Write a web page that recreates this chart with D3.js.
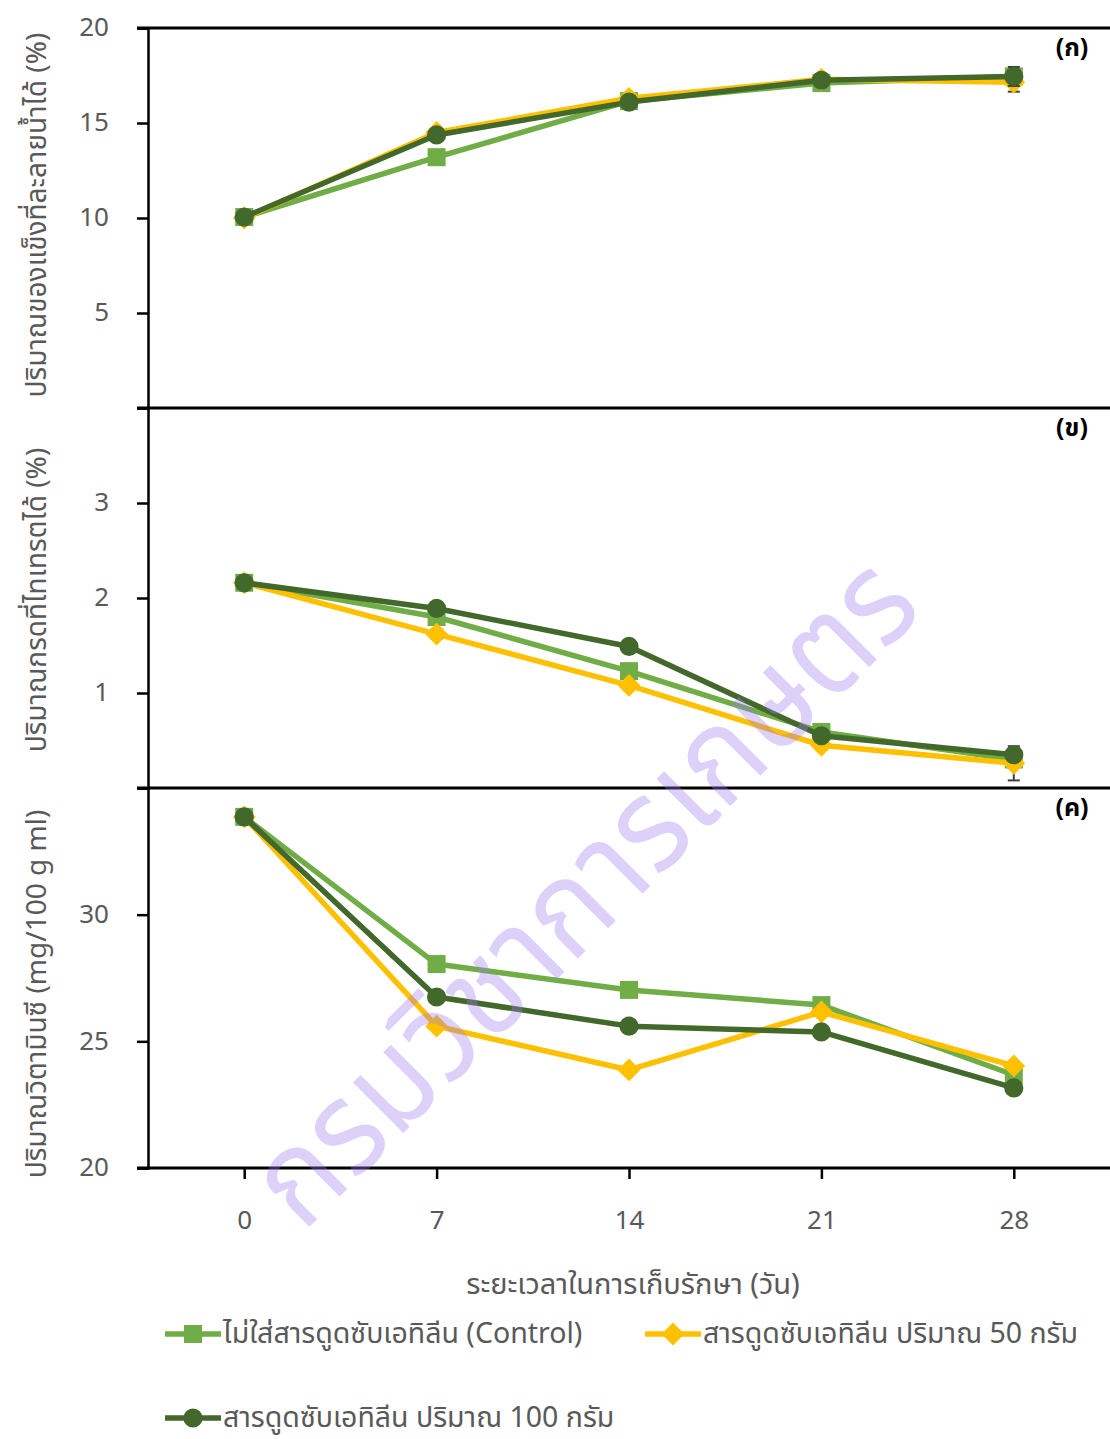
<!DOCTYPE html>
<html>
<head>
<meta charset="utf-8">
<script src="https://cdn.jsdelivr.net/npm/d3@7"></script>
<style>
  body { margin: 0; background: #fff; }
  svg { display: block; }
  text { font-family: "Noto Sans Thai", "Leelawadee UI", Tahoma, "Noto Sans", sans-serif; }
</style>
</head>
<body>
<script>
// ---- data ----
const days = [0, 7, 14, 21, 28];
const seriesNames = ["ไม่ใส่สารดูดซับเอทิลีน (Control)", "สารดูดซับเอทิลีน ปริมาณ 50 กรัม", "สารดูดซับเอทิลีน ปริมาณ 100 กรัม"];
const seriesColors = ["#70ad47", "#ffc000", "#43682b"];
const seriesShapes = ["square", "diamond", "circle"];

// (ก) soluble solids %
const tssControl = [10.05, 13.2, 16.15, 17.1, 17.45];
const tss50 = [10.0, 14.5, 16.3, 17.3, 17.15];
const tss100 = [10.05, 14.37, 16.1, 17.25, 17.45];
const tssErr50 = [0, 0, 0.1, 0, 0.5];
const tssErr100 = [0, 0, 0, 0, 0.5];

// (ข) titratable acidity %
const taControl = [2.16, 1.8, 1.23, 0.59, 0.3];
const ta50 = [2.16, 1.62, 1.08, 0.45, 0.26];
const ta100 = [2.16, 1.89, 1.49, 0.55, 0.35];
const taErr50 = [0.05, 0.05, 0.05, 0, 0.18];

// (ค) vitamin C mg/100 g ml
const vcControl = [33.86, 28.05, 27.03, 26.43, 23.67];
const vc50 = [33.86, 25.6, 23.87, 26.16, 24.03];
const vc100 = [33.86, 26.75, 25.6, 25.37, 23.16];

const panelLabels = ["(ก)", "(ข)", "(ค)"];
const yTitles = ["ปริมาณของแข็งที่ละลายน้ำได้ (%)", "ปริมาณกรดที่ไทเทรตได้ (%)", "ปริมาณวิตามินซี (mg/100 g ml)"];
const yTitleCenters = [215, 600, 994];
const yDomains = [[0, 20], [0, 4], [20, 35]];
const yTicks = [[5, 10, 15, 20], [1, 2, 3], [20, 25, 30]];
const xTitle = "ระยะเวลาในการเก็บรักษา (วัน)";
const watermark = "กรมวิชาการเกษตร";

const panels = [
  { values: [tssControl, tss50, tss100], errs: [null, tssErr50, tssErr100] },
  { values: [taControl, ta50, ta100], errs: [null, taErr50, null] },
  { values: [vcControl, vc50, vc100], errs: [null, null, null] }
];

// ---- layout ----
const W = 1110, H = 1439;
const plotLeft = 148, plotRight = 1110, plotTop = 28, panelH = 380;
const textColor = "#595959";

const svg = d3.select("body").append("svg")
  .attr("width", W).attr("height", H);

const x = d3.scaleLinear().domain([-3.5, 31.5]).range([plotLeft, plotRight]);

const symbolFor = {
  square: d3.symbol().type(d3.symbolSquare).size(324),
  diamond: d3.symbol().type(d3.symbolSquare).size(260),
  circle: d3.symbol().type(d3.symbolCircle).size(290)
};
const rot = s => seriesShapes[s] === "diamond" ? " rotate(45)" : "";

panels.forEach((p, i) => {
  const y0 = plotTop + i * panelH;
  const y = d3.scaleLinear().domain(yDomains[i]).range([y0 + panelH, y0]);
  const g = svg.append("g");

  // y axis
  const yAxis = g.append("g")
    .attr("transform", `translate(${plotLeft},0)`)
    .call(d3.axisLeft(y).tickValues(yTicks[i]).tickFormat(d3.format("d")).tickSize(11).tickPadding(28));
  yAxis.select(".domain").attr("stroke", "#000").attr("stroke-width", 2.5);
  yAxis.selectAll(".tick line").attr("stroke", "#000").attr("stroke-width", 2.5);
  yAxis.selectAll(".tick text").attr("fill", textColor).style("font-size", "26px")
    .attr("dy", "0.3em");

  // top frame line of panel
  g.append("line")
    .attr("x1", plotLeft - 11).attr("x2", plotRight)
    .attr("y1", y0).attr("y2", y0)
    .attr("stroke", "#000").attr("stroke-width", 3);

  // y title
  g.append("text")
    .attr("transform", `translate(36,${yTitleCenters[i]}) rotate(-90)`)
    .attr("text-anchor", "middle")
    .attr("dy", "0.35em")
    .attr("fill", textColor)
    .style("font-size", "28px")
    .text(yTitles[i]);

  // panel label
  g.append("text")
    .attr("x", 1072).attr("y", y0 + 28)
    .attr("text-anchor", "middle")
    .attr("fill", "#000")
    .style("font-size", "25px")
    .style("font-weight", "bold")
    .text(panelLabels[i]);

  const line = d3.line().x((d, k) => x(days[k])).y(d => y(d));

  p.values.forEach((vals, s) => {
    g.append("path")
      .datum(vals)
      .attr("d", line)
      .attr("fill", "none")
      .attr("stroke", seriesColors[s])
      .attr("stroke-width", 5.5)
      .attr("stroke-linejoin", "round");

    const err = p.errs[s];
    if (err) {
      vals.forEach((v, k) => {
        if (!err[k]) return;
        const eg = g.append("g").attr("stroke", "#404040").attr("stroke-width", 2);
        eg.append("line").attr("x1", x(days[k])).attr("x2", x(days[k]))
          .attr("y1", y(v - err[k])).attr("y2", y(v + err[k]));
        [v - err[k], v + err[k]].forEach(e => {
          eg.append("line").attr("x1", x(days[k]) - 6).attr("x2", x(days[k]) + 6)
            .attr("y1", y(e)).attr("y2", y(e));
        });
      });
    }

    g.selectAll(null)
      .data(vals)
      .join("path")
      .attr("d", symbolFor[seriesShapes[s]])
      .attr("transform", (d, k) => `translate(${x(days[k])},${y(d)})` + rot(s))
      .attr("fill", seriesColors[s]);
  });

  // bottom axis on last panel
  if (i === panels.length - 1) {
    const xAxis = g.append("g")
      .attr("transform", `translate(0,${y0 + panelH})`)
      .call(d3.axisBottom(x).tickValues(days).tickSize(11).tickPadding(32));
    xAxis.select(".domain").remove();
    g.append("line")
      .attr("x1", plotLeft - 11).attr("x2", plotRight)
      .attr("y1", y0 + panelH).attr("y2", y0 + panelH)
      .attr("stroke", "#000").attr("stroke-width", 3);
    xAxis.selectAll(".tick line").attr("stroke", "#000").attr("stroke-width", 2.5);
    xAxis.selectAll(".tick text").attr("fill", textColor).style("font-size", "26px");
  }
});

// x title
svg.append("text")
  .attr("x", 633).attr("y", 1294)
  .attr("text-anchor", "middle")
  .attr("fill", textColor)
  .style("font-size", "29px")
  .text(xTitle);

// legend
const legendPos = [[165, 1334], [645, 1334], [165, 1418]];
seriesNames.forEach((name, s) => {
  const [lx, ly] = legendPos[s];
  const lg = svg.append("g").attr("transform", `translate(${lx},${ly})`);
  lg.append("line").attr("x1", 0).attr("x2", 56).attr("y1", 0).attr("y2", 0)
    .attr("stroke", seriesColors[s]).attr("stroke-width", 5.5);
  lg.append("path").attr("d", symbolFor[seriesShapes[s]])
    .attr("transform", "translate(28,0)" + rot(s))
    .attr("fill", seriesColors[s]);
  lg.append("text").attr("x", 58).attr("y", 9)
    .attr("fill", textColor)
    .style("font-size", "28.5px")
    .text(name);
});

// watermark
svg.append("text")
  .attr("transform", "translate(582,890) rotate(-45)")
  .attr("text-anchor", "middle")
  .attr("dy", "0.35em")
  .attr("textLength", 880)
  .attr("lengthAdjust", "spacingAndGlyphs")
  .attr("fill", "#9d7cf0")
  .attr("fill-opacity", 0.35)
  .style("font-size", "130px")
  .text(watermark);
</script>
</body>
</html>
